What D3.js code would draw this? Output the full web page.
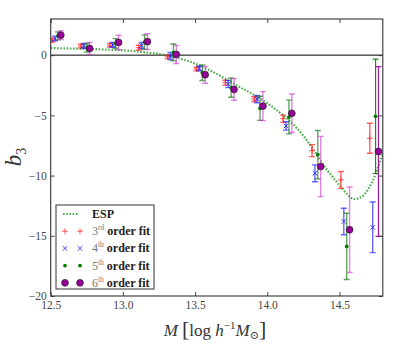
<!DOCTYPE html>
<html><head><meta charset="utf-8">
<script src="https://cdn.jsdelivr.net/npm/d3@7"></script>
<style>body{margin:0;background:#fff}svg{display:block}svg text{font-family:'Liberation Serif','DejaVu Serif',serif}</style>
</head><body>
<script>
// ---- data ----
const espMass = [12.5,12.6,12.7,12.8,12.9,13.0,13.1,13.2,13.3,13.4,13.5,13.6,13.7,13.8,13.9,14.0,14.1,14.2,14.3,14.4,14.5,14.55,14.6,14.65,14.7,14.75,14.8];
const espB3   = [0.58,0.56,0.53,0.5,0.45,0.4,0.3,0.17,0.0,-0.3,-0.7,-1.25,-1.9,-2.6,-3.25,-4.0,-4.9,-6.0,-7.5,-9.3,-10.8,-11.5,-11.95,-11.8,-11.1,-9.9,-8.1];

const mass3 = [12.51,12.71,12.91,13.11,13.31,13.51,13.71,13.91,14.11,14.31,14.51,14.71];
const fit3  = [1.24,0.75,0.83,0.62,-0.14,-1.16,-2.29,-3.65,-5.28,-7.93,-10.36,-6.9];
const err3  = [0.15,0.15,0.15,0.2,0.15,0.15,0.2,0.2,0.3,0.5,0.7,1.25];

const mass4 = [12.53,12.73,12.93,13.13,13.33,13.53,13.73,13.93,14.13,14.33,14.53,14.73];
const fit4  = [1.38,0.77,0.86,0.8,-0.08,-1.1,-2.4,-3.65,-5.88,-9.81,-13.81,-14.3];
const err4  = [0.2,0.2,0.2,0.25,0.3,0.2,0.3,0.3,0.35,0.7,1.1,2.1];

const mass5 = [12.55,12.75,12.95,13.15,13.35,13.55,13.75,13.95,14.15,14.35,14.55,14.75];
const fit5  = [1.6,0.61,0.97,1.08,0.22,-1.46,-2.7,-4.42,-5.14,-8.26,-15.88,-5.08];
const err5  = [0.33,0.36,0.4,0.6,0.7,0.65,0.8,1.0,1.4,2.0,2.75,4.75];

const mass6 = [12.57,12.77,12.97,13.17,13.37,13.57,13.77,13.97,14.17,14.37,14.57,14.77];
const fit6  = [1.66,0.55,1.05,1.12,0.06,-1.63,-2.85,-4.23,-4.83,-9.25,-14.5,-8.0];
const err6  = [0.36,0.5,0.6,0.65,0.75,0.7,0.9,1.2,1.6,2.5,3.55,7.05];

const xTicks = [12.5,13.0,13.5,14.0,14.5];
const yTicks = [0,-5,-10,-15,-20];

// ---- layout ----
const W = 407, H = 347;
const L = 50.7, R = 382.8, T = 19, B = 296;
const svg = d3.select("body").append("svg").attr("width", W).attr("height", H);

const x = d3.scaleLinear().domain([12.5, 14.8]).range([L, R]);
const y = d3.scaleLinear().domain([-20, 3]).range([B, T]);

svg.append("clipPath").attr("id","clip").append("rect")
  .attr("x", L).attr("y", T).attr("width", R-L).attr("height", B-T);
const plot = svg.append("g").attr("clip-path","url(#clip)");

// zero line
plot.append("line").attr("x1", L).attr("x2", R).attr("y1", y(0)).attr("y2", y(0))
  .attr("stroke", "#000").attr("stroke-width", 1);

// ESP curve
const espData = espMass.map((m,i)=>[m, espB3[i]]);
plot.append("path").datum(espData)
  .attr("d", d3.line().x(d=>x(d[0])).y(d=>y(d[1])).curve(d3.curveMonotoneX))
  .attr("fill","none").attr("stroke","#2e9e2e").attr("stroke-opacity",0.85)
  .attr("stroke-width",2.2).attr("stroke-dasharray","1.6,1.6");

const series = [
  {m: mass3, v: fit3, e: err3, col: "#ff3030", ecol: "#ff2020", eop: 0.7, mk: "plus"},
  {m: mass4, v: fit4, e: err4, col: "#2020ff", ecol: "#2828ff", eop: 0.7, mk: "x"},
  {m: mass5, v: fit5, e: err5, col: "#008000", ecol: "#117711", eop: 0.65, mk: "dot"},
  {m: mass6, v: fit6, e: err6, col: "#990099", ecol: "#cc33cc", eop: 0.6, mk: "circle"}
];

function drawMarker(g, mk, cx, cy, col) {
  if (mk === "plus") {
    g.append("path").attr("d", `M${cx-3},${cy}H${cx+3}M${cx},${cy-3}V${cy+3}`)
      .attr("stroke", col).attr("stroke-width", 1).attr("stroke-opacity",0.8).attr("fill","none");
  } else if (mk === "x") {
    g.append("path").attr("d", `M${cx-2.3},${cy-2.3}L${cx+2.3},${cy+2.3}M${cx-2.3},${cy+2.3}L${cx+2.3},${cy-2.3}`)
      .attr("stroke", col).attr("stroke-width", 1).attr("stroke-opacity",0.85).attr("fill","none");
  } else if (mk === "dot") {
    g.append("circle").attr("cx", cx).attr("cy", cy).attr("r", 1.9).attr("fill", col);
  } else {
    g.append("circle").attr("cx", cx).attr("cy", cy).attr("r", 3.4)
      .attr("fill", col).attr("stroke", "#222").attr("stroke-width", 0.7);
  }
}

series.forEach(s => {
  const g = plot.append("g");
  s.m.forEach((m,i) => {
    const cx = x(m), y1 = y(s.v[i] + s.e[i]), y2 = y(s.v[i] - s.e[i]);
    const big = s.e[i] > 4;
    const eg = g.append("g").attr("stroke", big ? s.col : s.ecol).attr("stroke-opacity", big ? 0.9 : s.eop)
      .attr("stroke-width", big ? 1.2 : 1.4).attr("fill","none");
    eg.append("line").attr("x1", cx).attr("x2", cx).attr("y1", y1).attr("y2", y2);
    eg.append("line").attr("x1", cx-3).attr("x2", cx+3).attr("y1", y1).attr("y2", y1);
    eg.append("line").attr("x1", cx-3).attr("x2", cx+3).attr("y1", y2).attr("y2", y2);
  });
  s.m.forEach((m,i) => drawMarker(g, s.mk, x(m), y(s.v[i]), s.col));
});

// frame
svg.append("rect").attr("x", L).attr("y", T).attr("width", R-L).attr("height", B-T)
  .attr("fill","none").attr("stroke","#333").attr("stroke-width",1.1);

// axes (ticks inside)
const axB = svg.append("g").attr("transform",`translate(0,${B})`)
  .call(d3.axisBottom(x).tickValues(xTicks).tickSize(-4).tickPadding(8).tickFormat(d3.format(".1f")));
const axT = svg.append("g").attr("transform",`translate(0,${T})`)
  .call(d3.axisTop(x).tickValues(xTicks).tickSize(-4).tickFormat(""));
const axL = svg.append("g").attr("transform",`translate(${L},0)`)
  .call(d3.axisLeft(y).tickValues(yTicks).tickSize(-4).tickPadding(8).tickFormat(d => d === 0 ? "0" : "\u2212" + Math.abs(d)));
const axR = svg.append("g").attr("transform",`translate(${R},0)`)
  .call(d3.axisRight(y).tickValues(yTicks).tickSize(-4).tickFormat(""));
[axB, axT, axL, axR].forEach(a => {
  a.attr("font-family", null);
  a.select(".domain").remove();
  a.selectAll(".tick line").attr("stroke","#333").attr("stroke-width",0.9);
  a.selectAll(".tick text").attr("font-size", 11.5).attr("fill","#444");
});
axL.selectAll(".tick text").attr("x", -4);
axB.selectAll(".tick text").attr("dy", "0.71em").attr("y", 5);

// y label
svg.append("text").attr("transform", "translate(21,157) rotate(-90)")
  .attr("text-anchor","middle").attr("font-size", 23).attr("fill","#333")
  .html('<tspan font-style="italic">b</tspan><tspan font-size="14" dy="5">3</tspan>');

// x label
svg.append("text").attr("x", 215).attr("y", 336).attr("text-anchor","middle")
  .attr("font-size", 17).attr("fill","#333")
  .html('<tspan font-style="italic">M</tspan><tspan font-size="22" dx="4">[</tspan><tspan>log </tspan><tspan font-style="italic">h</tspan><tspan font-size="11" dy="-7">\u22121</tspan><tspan font-style="italic" dy="7">M</tspan><tspan font-size="11" dy="3">\u2299</tspan><tspan font-size="22" dy="-3">]</tspan>');

// legend
const lg = svg.append("g");
lg.append("rect").attr("x", 56).attr("y", 205).attr("width", 98).attr("height", 84)
  .attr("fill","#fff").attr("stroke","#444").attr("stroke-width",1.1);
const rowsY = [214, 231.2, 248.4, 265.6, 282.8];
lg.append("line").attr("x1", 63).attr("x2", 79).attr("y1", rowsY[0]).attr("y2", rowsY[0])
  .attr("stroke","#2e9e2e").attr("stroke-opacity",0.85).attr("stroke-width",2.2).attr("stroke-dasharray","1.6,1.6");
lg.append("text").attr("x", 92).attr("y", rowsY[0]+4).attr("font-size", 12).attr("font-weight","bold").attr("fill","#222").text("ESP");
const ords = [["3","rd"],["4","th"],["5","th"],["6","th"]];
series.forEach((s,i) => {
  const ry = rowsY[i+1];
  drawMarker(lg, s.mk, 65, ry, s.col);
  drawMarker(lg, s.mk, 80, ry, s.col);
  lg.append("text").attr("x", 92).attr("y", ry+4).attr("font-size", 12).attr("fill","#333")
    .html(`<tspan fill="#777">${ords[i][0]}</tspan><tspan font-size="7.5" dy="-5" fill="#777">${ords[i][1]}</tspan><tspan dy="5" font-weight="bold" fill="#222"> order fit</tspan>`);
});
</script>
</body></html>
